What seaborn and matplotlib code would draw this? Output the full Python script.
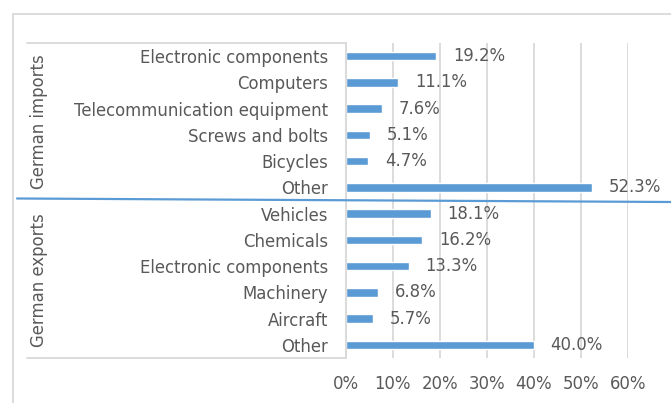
import matplotlib
matplotlib.use("Agg")
import matplotlib.pyplot as plt
from matplotlib.lines import Line2D
import seaborn as sns
import pandas as pd

# Trade shares by product, in percent
import_items = ["Electronic components", "Computers", "Telecommunication equipment",
                "Screws and bolts", "Bicycles", "Other"]
import_shares = [19.2, 11.1, 7.6, 5.1, 4.7, 52.3]

export_items = ["Vehicles", "Chemicals", "Electronic components",
                "Machinery", "Aircraft", "Other"]
export_shares = [18.1, 16.2, 13.3, 6.8, 5.7, 40.0]

groups = ["German imports", "German exports"]
x_ticks = [0, 10, 20, 30, 40, 50, 60]

df = pd.DataFrame({
    "group": [groups[0]] * len(import_items) + [groups[1]] * len(export_items),
    "item": import_items + export_items,
    "share": import_shares + export_shares,
})
df["row"] = df["group"] + " | " + df["item"]

BLUE = "#5B9BD5"
TEXT = "#595959"
GRID = "#D9D9D9"
FS = 11.9

sns.set_theme(style="white")
plt.rcParams["font.family"] = ["DejaVu Sans"]

fig = plt.figure(figsize=(6.71, 4.03), dpi=100)
W, H = 671, 403
ax = fig.add_axes([346 / W, 1 - 358 / H, (628 - 346) / W, (358 - 43) / H])

sns.barplot(data=df, y="row", x="share", orient="h", color=BLUE,
            width=0.32, saturation=1, ax=ax)

for cont in ax.containers:
    ax.bar_label(cont, labels=[f"{v:.1f}%" for v in cont.datavalues],
                 padding=12, fontsize=FS, color=TEXT)

ax.set_xlim(0, 60)
ax.set_ylim(len(df) - 0.5, -0.5)
ax.set_xticks(x_ticks)
ax.set_xticklabels([f"{t}%" for t in x_ticks], fontsize=FS, color=TEXT)
ax.set_yticks(range(len(df)))
ax.set_yticklabels(df["item"], fontsize=FS, color=TEXT)
ax.tick_params(axis="y", length=0, pad=13)
ax.tick_params(axis="x", length=0, pad=12)
ax.set_xlabel("")
ax.set_ylabel("")
ax.xaxis.grid(True, color=GRID, linewidth=1.3)
ax.set_axisbelow(True)
for side in ["top", "right", "bottom"]:
    ax.spines[side].set_visible(False)
ax.spines["left"].set_color(GRID)
ax.spines["left"].set_linewidth(1.3)

# chart frame (top and left edges)
fig.add_artist(Line2D([12.5 / W, 1.0], [1 - 13.5 / H, 1 - 13.5 / H],
                      color=GRID, linewidth=1.3, transform=fig.transFigure))
fig.add_artist(Line2D([12.5 / W, 12.5 / W], [0.0, 1 - 13.5 / H],
                      color=GRID, linewidth=1.3, transform=fig.transFigure))

# outer category axis separators
for yy in (43, 358):
    fig.add_artist(Line2D([27 / W, 346 / W], [1 - yy / H, 1 - yy / H],
                          color=GRID, linewidth=1.3, transform=fig.transFigure))

# group labels
fig.text(39 / W, 1 - 122 / H, groups[0], rotation=90, ha="center", va="center",
         fontsize=FS, color=TEXT)
fig.text(39 / W, 1 - 280 / H, groups[1], rotation=90, ha="center", va="center",
         fontsize=FS, color=TEXT)

# divider between imports and exports
fig.add_artist(Line2D([17 / W, 1.0], [1 - 198.5 / H, 1 - 202 / H],
                      color=BLUE, linewidth=1.6, transform=fig.transFigure))

fig.savefig("out.png", dpi=100)
